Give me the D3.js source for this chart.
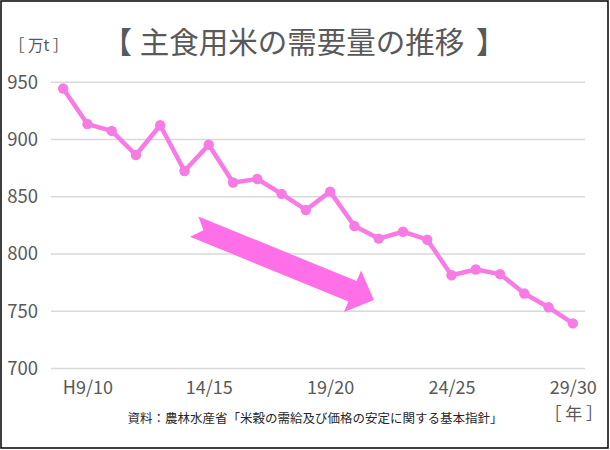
<!DOCTYPE html>
<html><head><meta charset="utf-8">
<script src="https://cdn.jsdelivr.net/npm/d3@7"></script>
<style>
html,body{margin:0;padding:0;background:#fff;}
svg{display:block;}
text{font-family:"Noto Sans CJK JP","Noto Sans",sans-serif;}
</style></head>
<body>
<svg id="chart" width="610" height="450"></svg>
<script>
const categories = ["H8/9","H9/10","10/11","11/12","12/13","13/14","14/15","15/16","16/17","17/18","18/19","19/20","20/21","21/22","22/23","23/24","24/25","25/26","26/27","27/28","28/29","29/30"];
const demand = [944, 913, 907, 886, 912, 872, 895, 862, 865, 852, 838, 854, 824, 813, 819, 812, 781, 786, 782, 765, 753, 739];
const yTicks = [700, 750, 800, 850, 900, 950];
const xTickLabels = ["H9/10","14/15","19/20","24/25","29/30"];
const trendArrow = [{i: 5.4, v: 823.5}, {i: 12.8, v: 759.4}];
const titleText = "主食用米の需要量の推移";
const yUnit = "［ 万t ］";
const xUnit = "［ 年 ］";
const source = "資料：農林水産省「米穀の需給及び価格の安定に関する基本指針」";

const plot = {left: 51, right: 585, top: 81.7, bottom: 368};
const pink = "#F77BE5";
const grey = "#595959";
const svg = d3.select("#chart");

svg.append("rect").attr("x", 1).attr("y", 1).attr("width", 607).attr("height", 447)
  .attr("fill", "#fff").attr("stroke", "#000").attr("stroke-width", 1.5);

const x = d3.scalePoint().domain(categories).range([plot.left, plot.right]).padding(0.5);
const y = d3.scaleLinear().domain([700, 950]).range([plot.bottom, plot.top]);

// gridlines + y labels
const yAxis = d3.axisLeft(y).tickValues(yTicks).tickSize(-(plot.right - plot.left)).tickPadding(13);
const gy = svg.append("g").attr("transform", `translate(${plot.left},0)`).call(yAxis);
gy.select(".domain").remove();
gy.selectAll(".tick line").attr("stroke", "#D9D9D9").attr("stroke-width", 1.6);
gy.selectAll(".tick text").attr("fill", grey).attr("font-size", 18.5)
  .attr("font-family", "'Noto Sans CJK JP', sans-serif").attr("dy", "0.35em");

// x labels
const xAxis = d3.axisBottom(x).tickValues(xTickLabels).tickSize(0).tickPadding(13);
const gx = svg.append("g").attr("transform", `translate(0,${plot.bottom})`).call(xAxis);
gx.select(".domain").remove();
gx.selectAll(".tick text").attr("fill", grey).attr("font-size", 18)
  .attr("font-family", "'Noto Sans CJK JP', sans-serif");

// trend arrow (decorative), positioned in data space
const step = x.step();
const xi = i => x(categories[0]) + i * step;
const p0 = [xi(trendArrow[0].i), y(trendArrow[0].v)];
const p1 = [xi(trendArrow[1].i), y(trendArrow[1].v)];
const dx = p1[0] - p0[0], dy = p1[1] - p0[1];
const len = Math.hypot(dx, dy), ang = Math.atan2(dy, dx) * 180 / Math.PI;
const sw = 11, hw = 22.5, hl = 23, notch = 10;
const arrowPts = [[0, -sw], [len - hl, -sw], [len - hl, -hw], [len, 0], [len - hl, hw], [len - hl, sw], [0, sw], [notch, 0]];
svg.append("polygon")
  .attr("points", arrowPts.map(p => p.join(",")).join(" "))
  .attr("transform", `translate(${p0[0]},${p0[1]}) rotate(${ang})`)
  .attr("fill", "#FF70E8");

// line
svg.append("path").datum(demand)
  .attr("d", d3.line().x((d, i) => x(categories[i])).y(d => y(d)))
  .attr("fill", "none").attr("stroke", pink).attr("stroke-width", 4.5).attr("stroke-linejoin", "round");
svg.append("g").selectAll("circle").data(demand).join("circle")
  .attr("cx", (d, i) => x(categories[i])).attr("cy", d => y(d)).attr("r", 5.2).attr("fill", pink);

// title
svg.append("text").attr("x", 132).attr("y", 53).attr("text-anchor", "end")
  .attr("font-size", 30).attr("fill", grey).text("【");
svg.append("text").attr("x", 302).attr("y", 53).attr("text-anchor", "middle")
  .attr("font-size", 29.5).attr("fill", grey).text(titleText);
svg.append("text").attr("x", 476).attr("y", 53).attr("text-anchor", "start")
  .attr("font-size", 30).attr("fill", grey).text("】");

svg.append("text").attr("x", 9).attr("y", 51).attr("font-size", 15.5).attr("fill", grey).text(yUnit);
svg.append("text").attr("x", 603).attr("y", 420).attr("text-anchor", "end")
  .attr("font-size", 17).attr("fill", grey).text(xUnit);
svg.append("text").attr("x", 315).attr("y", 423).attr("text-anchor", "middle")
  .attr("font-size", 12.5).attr("fill", "#262626").text(source);
</script>
</body></html>
